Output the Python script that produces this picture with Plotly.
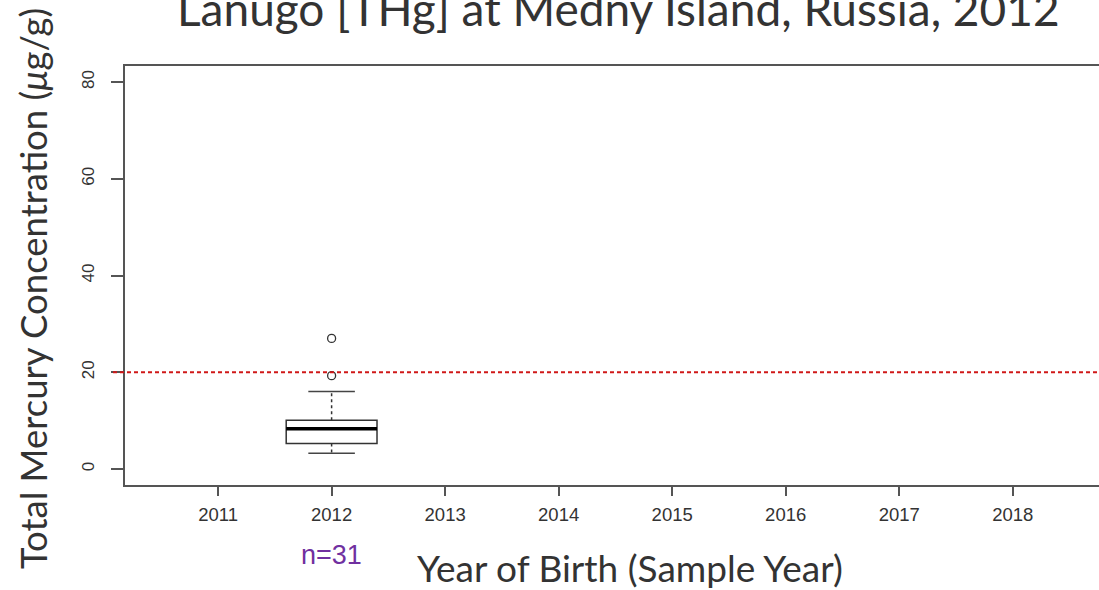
import plotly.graph_objects as go

# ---- data ----
years = [2012]
lower_whisker = [3.25]
q1 = [5.3]
median = [8.35]
q3 = [10.1]
upper_whisker = [16.0]
outlier_years = [2012, 2012]
outlier_values = [19.3, 27.0]
sample_sizes = ["n=31"]
threshold = 20
x_ticks = [2011, 2012, 2013, 2014, 2015, 2016, 2017, 2018]
y_ticks = [0, 20, 40, 60, 80]

BOX_W = 0.8
CAP_W = 0.41
AX = "#555555"
TXT = "#333333"

fig = go.Figure()

# box body
fig.add_trace(go.Box(
    x=years, q1=q1, median=median, q3=q3,
    lowerfence=q1, upperfence=q3,
    width=BOX_W, fillcolor="white",
    line=dict(color="#333333", width=1.5),
    whiskerwidth=0, showlegend=False, hoverinfo="skip", boxpoints=False,
))

for i, yr in enumerate(years):
    # thick median
    fig.add_trace(go.Scatter(
        x=[yr - BOX_W / 2, yr + BOX_W / 2], y=[median[i], median[i]],
        mode="lines", line=dict(color="black", width=3.5),
        showlegend=False, hoverinfo="skip"))
    # dashed whisker stems
    for a, b in [(q3[i], upper_whisker[i]), (q1[i], lower_whisker[i])]:
        fig.add_trace(go.Scatter(
            x=[yr, yr], y=[a, b], mode="lines",
            line=dict(color="#333333", width=1.5, dash="3px,3px"),
            showlegend=False, hoverinfo="skip"))
    # caps
    for v in [upper_whisker[i], lower_whisker[i]]:
        fig.add_trace(go.Scatter(
            x=[yr - CAP_W / 2, yr + CAP_W / 2], y=[v, v], mode="lines",
            line=dict(color="#444444", width=1.5),
            showlegend=False, hoverinfo="skip"))

# outliers
fig.add_trace(go.Scatter(
    x=outlier_years, y=outlier_values, mode="markers",
    marker=dict(symbol="circle-open", size=8, color="#333333", line=dict(width=1.3)),
    showlegend=False, hoverinfo="skip"))

# threshold line
fig.add_shape(type="line", xref="paper", yref="y",
              x0=-12 / 974, x1=1, y0=threshold, y1=threshold,
              line=dict(color="#d01818", width=2, dash="4px,3px"))

# sample size labels
for yr, s in zip(years, sample_sizes):
    fig.add_annotation(x=yr, xref="x", y=-0.167, yref="paper", text=s,
                       showarrow=False, xanchor="center", yanchor="middle",
                       font=dict(family="Liberation Sans", size=27, color="#7030A0"))

# title
fig.add_annotation(x=0.507, xref="paper", y=1.137, yref="paper",
                   text="Lanugo [THg] at Medny Island, Russia, 2012",
                   showarrow=False, xanchor="center", yanchor="middle",
                   font=dict(family="Lato", size=46, color="#333333"))
# x title
fig.add_annotation(x=0.5185, xref="paper", y=-0.198, yref="paper",
                   text="Year of Birth (Sample Year)",
                   showarrow=False, xanchor="center", yanchor="middle",
                   font=dict(family="Lato", size=37, color="#333333"))
# y title
fig.add_annotation(x=-0.0945, xref="paper", y=0.47, yref="paper",
                   text="Total Mercury Concentration (<i>μ</i>g/g)", textangle=-90,
                   showarrow=False, xanchor="center", yanchor="middle",
                   font=dict(family="Lato", size=36.5, color="#333333"))

fig.update_layout(
    width=1099, height=590,
    margin=dict(l=125, r=0, t=66, b=105),
    paper_bgcolor="white", plot_bgcolor="white",
    showlegend=False,
    xaxis=dict(range=[2010.18, 2018.76], tickvals=x_ticks, ticktext=[str(t) for t in x_ticks],
               showgrid=False, zeroline=False, showline=True, linecolor=AX, linewidth=1.5,
               mirror=True, ticks="outside", ticklen=9, tickcolor=AX, tickwidth=1.5,
               ticklabelstandoff=3,
               tickfont=dict(family="Liberation Sans", size=18.5, color=TXT)),
    yaxis=dict(range=[-3.3, 83.3], tickvals=y_ticks, showgrid=False, zeroline=False,
               showline=True, linecolor=AX, linewidth=1.5, ticks="outside", ticklen=12,
               tickcolor=AX, tickwidth=1.5, tickangle=-90, ticklabelstandoff=10,
               tickfont=dict(family="Liberation Sans", size=17, color=TXT)),
)

fig.write_html("out.html", config={"displayModeBar": False},
               post_script="document.body.style.margin='0';")
